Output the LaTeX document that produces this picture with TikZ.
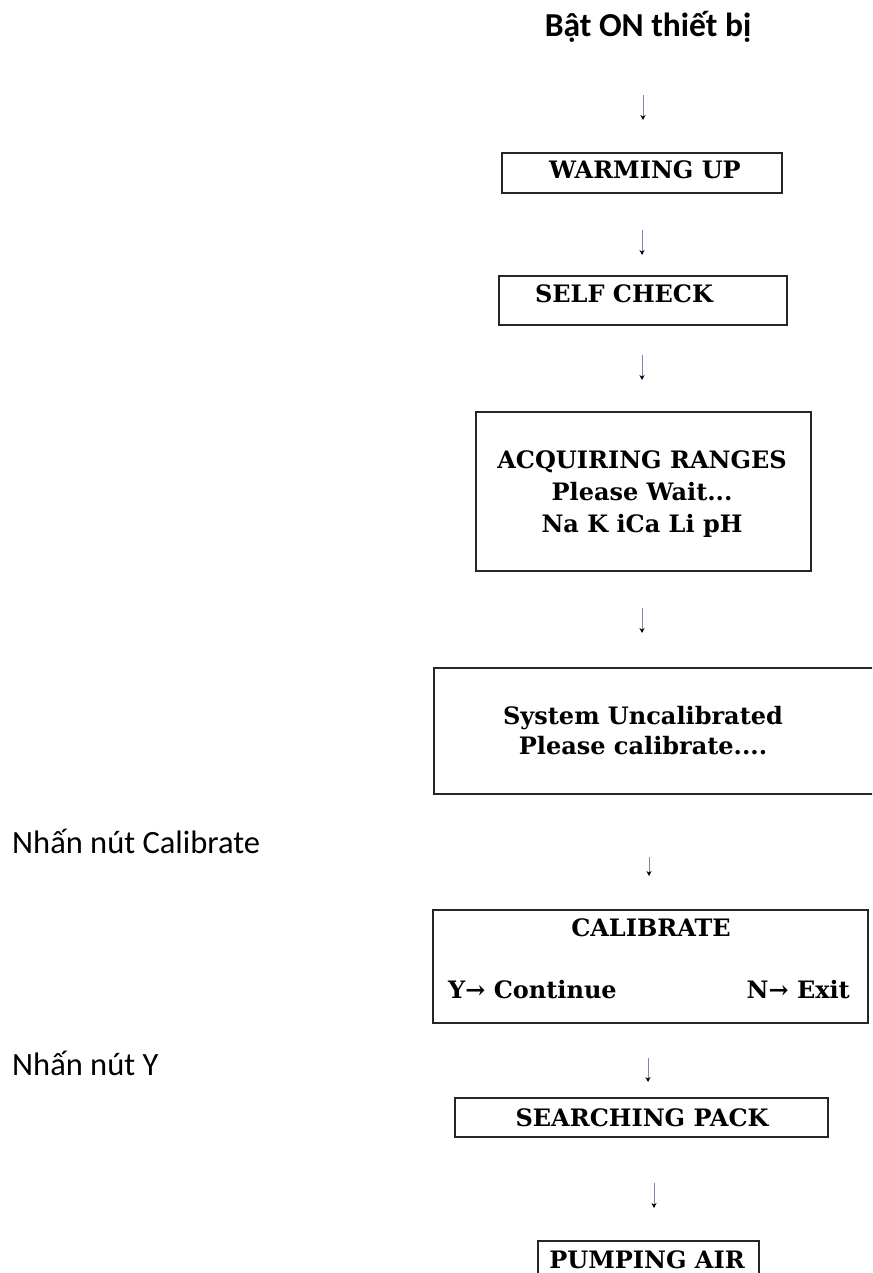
\documentclass[tikz,border=0pt]{standalone}
\usepackage{fontspec}
\setmainfont{Carlito}
\newfontfamily\boxfont{DejaVu Serif}
\usetikzlibrary{arrows.meta}
\definecolor{arrowblue}{RGB}{130,130,185}
\begin{document}
\begin{tikzpicture}[x=1pt,y=-1pt,
  frame/.style={draw=black!85, line width=1.7pt, inner sep=0pt},
  btext/.style={font=\boxfont\bfseries\fontsize{24}{32}\selectfont, align=center, inner sep=0pt},
  lbl/.style={font=\fontsize{32.5}{38}\selectfont, inner sep=0pt},
  flow/.style={draw=arrowblue, line width=0.9pt, -{Stealth[length=5pt,width=5pt,black]}}]
\useasboundingbox (0,0) rectangle (872,1273);
\clip (0,0) rectangle (872,1273);

% title
\node[lbl, font=\bfseries\fontsize{33.5}{38}\selectfont, anchor=base] (title) at (648,37) {Bật ON thiết bị};

% boxes
\node[frame, minimum width=280pt, minimum height=40pt] (warm) at (642,173) {};
\node[btext, anchor=base] (warmt) at (645,179) {WARMING UP};

\node[frame, minimum width=288pt, minimum height=49pt] (self) at (643,300.5) {};
\node[btext, anchor=base] (selft) at (624,302) {SELF CHECK};

\node[frame, minimum width=335pt, minimum height=159pt] (acq) at (643.5,491.5) {};
\node[btext] (acqt) at (642,494) {ACQUIRING RANGES\\Please Wait...\\Na K iCa Li pH};

\node[frame, minimum width=470pt, minimum height=126pt, anchor=north west] (sys) at (433,667) {};
\node[btext, font=\boxfont\bfseries\fontsize{24}{30}\selectfont] (syst) at (643,731) {System Uncalibrated\\Please calibrate....};

\node[frame, minimum width=435pt, minimum height=113pt] (cal) at (650.5,966.5) {};
\node[btext, anchor=base] (calt) at (651,936) {CALIBRATE};
\node[btext, anchor=base west] (yes) at (448,998) {Y\textrightarrow{} Continue};
\node[btext, anchor=base east] (no) at (850,998) {N\textrightarrow{} Exit};

\node[frame, minimum width=373pt, minimum height=39pt] (search) at (641.5,1117.5) {};
\node[btext, anchor=base] (searcht) at (642,1126) {SEARCHING PACK};

\node[frame, minimum width=221pt, minimum height=60pt, anchor=north west] (pump) at (537,1240) {};
\node[btext, anchor=base] (pumpt) at (647,1268) {PUMPING AIR};

% side labels
\node[lbl, anchor=base west] (lcal) at (12,853) {Nhấn nút Calibrate};
\node[lbl, anchor=base west] (ly) at (12,1075) {Nhấn nút Y};

% arrows
\coordinate (a1s) at (643,95);   \coordinate (a1e) at (643,120);
\coordinate (a2s) at (642,230);  \coordinate (a2e) at (642,255);
\coordinate (a3s) at (642,355);  \coordinate (a3e) at (642,380);
\coordinate (a4s) at (642,608);  \coordinate (a4e) at (642,633);
\coordinate (a5s) at (649,857);  \coordinate (a5e) at (649,876);
\coordinate (a6s) at (648,1058); \coordinate (a6e) at (648,1082);
\coordinate (a7s) at (654,1183); \coordinate (a7e) at (654,1208);
\foreach \i in {1,...,7} {\draw[flow] (a\i s) -- (a\i e);}
\end{tikzpicture}
\end{document}
